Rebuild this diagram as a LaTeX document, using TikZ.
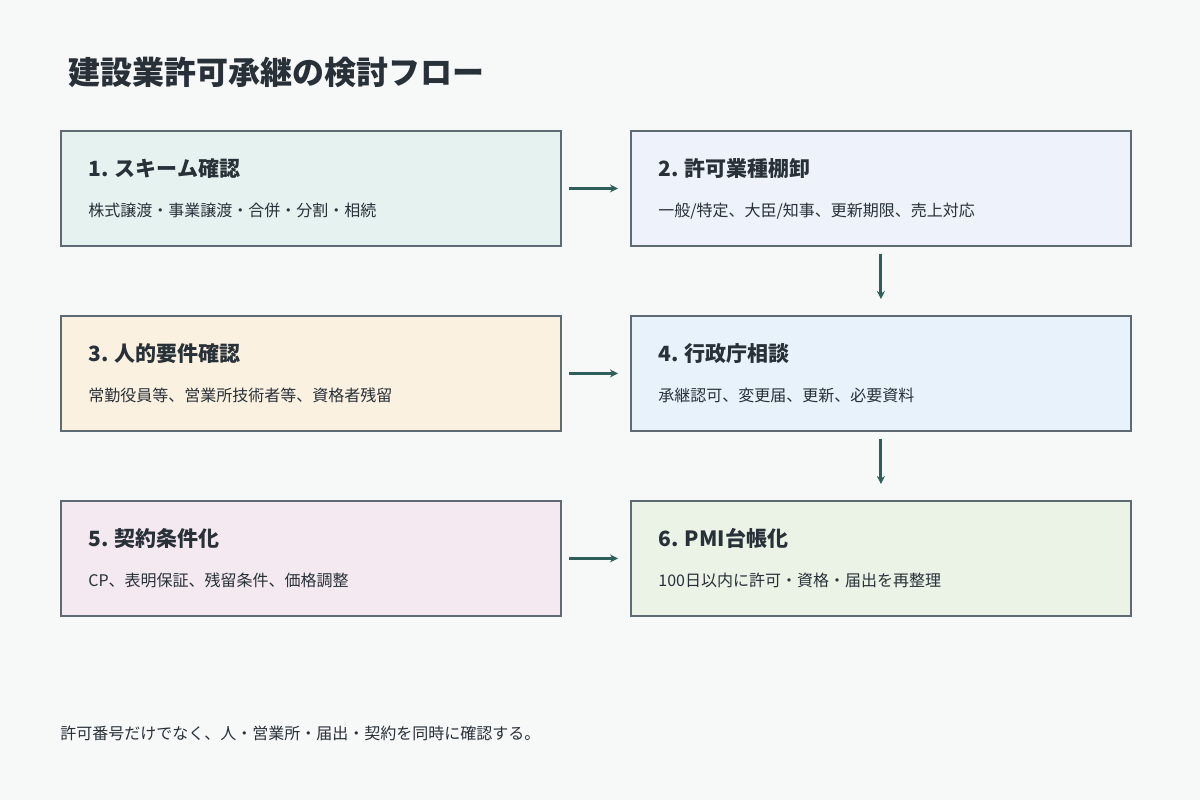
\documentclass[tikz,border=0pt]{standalone}
\usepackage{fontspec}
\setmainfont{Noto Sans CJK JP}
\usetikzlibrary{positioning,arrows.meta}
\definecolor{bggray}{RGB}{247,248,248}
\definecolor{edgegray}{RGB}{95,107,115}
\definecolor{fontgray}{RGB}{40,48,56}
\definecolor{flowteal}{RGB}{47,95,90}
\definecolor{fillA}{RGB}{230,242,239}
\definecolor{fillB}{RGB}{238,242,251}
\definecolor{fillC}{RGB}{250,241,224}
\definecolor{fillD}{RGB}{232,242,250}
\definecolor{fillE}{RGB}{245,233,241}
\definecolor{fillF}{RGB}{235,242,230}
\def\stepbox [#1]#2#3#4{
	% one step of the flow: box, heading, note
	\node[flowstep, #1] (#2) {};
	\node[steptitle, below right=of #2.north west, yshift=-3pt] (#2t) {#3};
	\node[stepnote, below right=0pt and 0pt of #2t.south west, yshift=-12pt] (#2n) {#4};
}
\begin{document}
\begin{tikzpicture}[x=0.5pt, y=-0.5pt, >=Stealth, node distance=11pt and 14pt,
		flowstep/.style={draw=edgegray, line width=0.9pt, minimum width=250pt, minimum height=57.5pt, anchor=north west, inner sep=0pt},
		steptitle/.style={font=\fontsize{10.5}{12}\selectfont\bfseries, text=fontgray, inner sep=0pt, anchor=north west},
		stepnote/.style={font=\fontsize{8}{10}\selectfont, text=fontgray, inner sep=0pt, anchor=north west},
		flow/.style={-{Stealth[length=4pt,width=4pt]}, line width=1.5pt, color=flowteal, shorten >=1pt},
		]
		\fill[bggray] (0,0) rectangle (1200,800);
		\useasboundingbox (0,0) rectangle (1200,800);
		
		\node[anchor=west, font=\fontsize{16}{18}\selectfont\bfseries, text=fontgray, inner sep=0pt] (title) at (68,72) {建設業許可承継の検討フロー};
		
		\stepbox[fill=fillA, at={(60,130)}]{s1}{1. スキーム確認}{株式譲渡・事業譲渡・合併・分割・相続}
		\stepbox[fill=fillB, at={(630,130)}]{s2}{2. 許可業種棚卸}{一般/特定、大臣/知事、更新期限、売上対応}
		\stepbox[fill=fillC, at={(60,315)}]{s3}{3. 人的要件確認}{常勤役員等、営業所技術者等、資格者残留}
		\stepbox[fill=fillD, at={(630,315)}]{s4}{4. 行政庁相談}{承継認可、変更届、更新、必要資料}
		\stepbox[fill=fillE, at={(60,500)}]{s5}{5. 契約条件化}{CP、表明保証、残留条件、価格調整}
		\stepbox[fill=fillF, at={(630,500)}]{s6}{6. PMI台帳化}{100日以内に許可・資格・届出を再整理}
		
		\draw [flow] ([xshift=3.5pt]s1.east) to ([xshift=-5pt]s2.west);
		\draw [flow] ([yshift=-3.5pt]s2.south) to ([yshift=7pt]s4.north);
		\draw [flow] ([xshift=3.5pt]s3.east) to ([xshift=-5pt]s4.west);
		\draw [flow] ([yshift=-3.5pt]s4.south) to ([yshift=7pt]s6.north);
		\draw [flow] ([xshift=3.5pt]s5.east) to ([xshift=-5pt]s6.west);
		
		\node[anchor=west, font=\fontsize{8}{10}\selectfont, text=fontgray, inner sep=0pt] (memo) at (60,733) {許可番号だけでなく、人・営業所・届出・契約を同時に確認する。};
	\end{tikzpicture}
\end{document}
